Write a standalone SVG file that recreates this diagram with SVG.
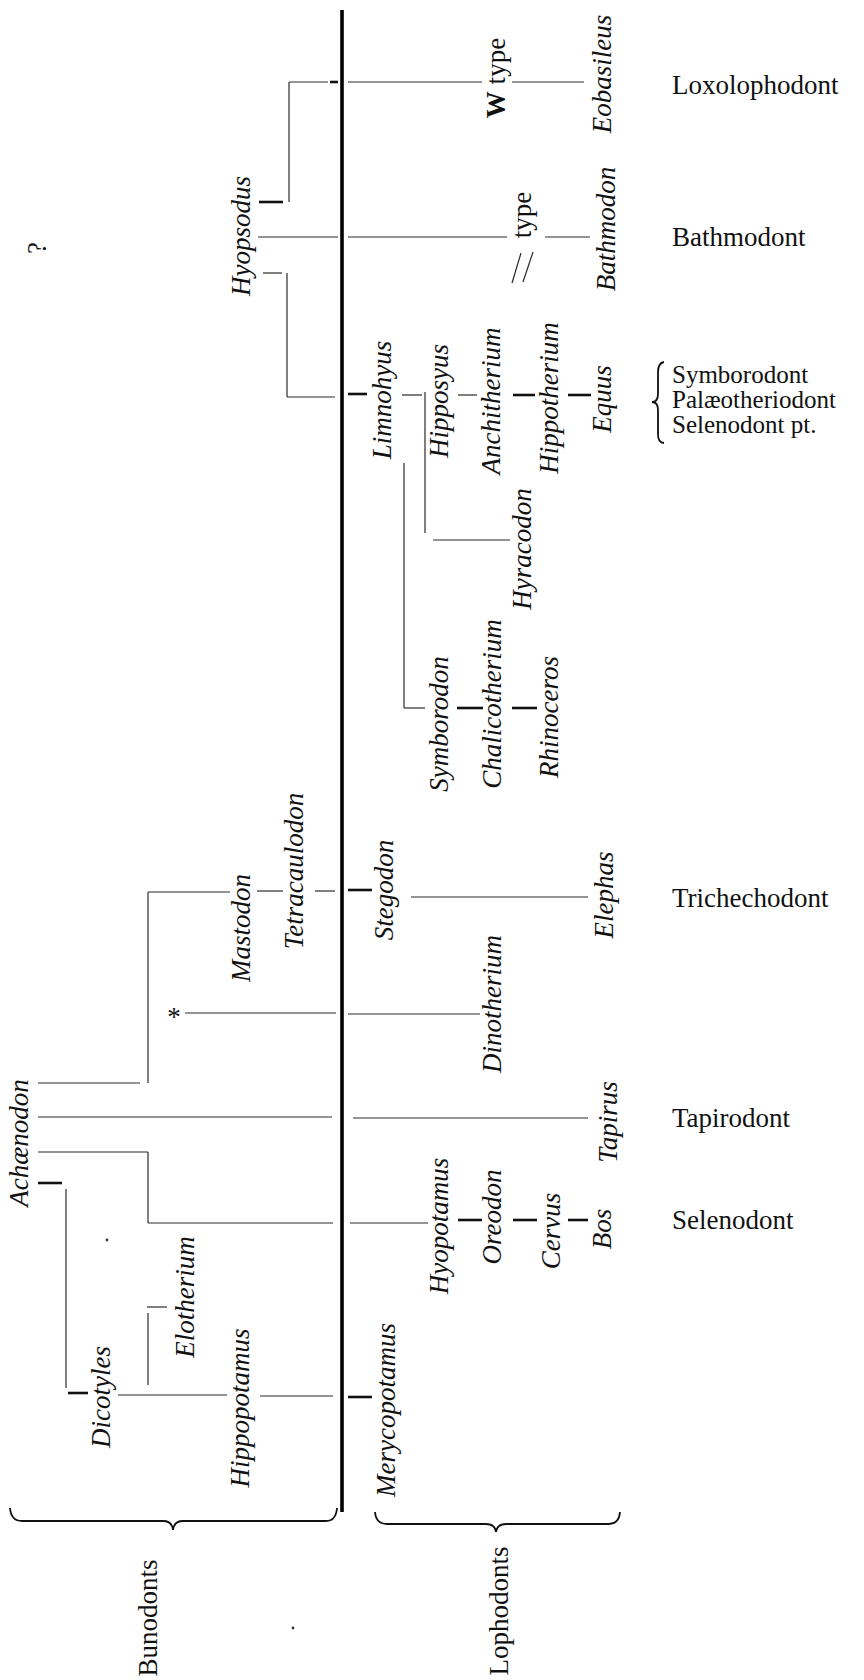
<svg xmlns="http://www.w3.org/2000/svg" width="864" height="1680" viewBox="0 0 864 1680">
<style>
text{font-family:'Liberation Serif','DejaVu Serif','Noto Serif',serif;font-size:27px;fill:#111}
.i{font-style:italic}
.m{text-anchor:middle}
.sm{font-size:25px}
.ln{stroke:#2a2a2a;stroke-width:1.2;fill:none}
.tk{stroke:#111;stroke-width:2.6;fill:none}
.main{stroke:#000;stroke-width:3.6}
.br{stroke:#111;stroke-width:1.8;fill:none}
</style>
<rect width="864" height="1680" fill="#fff"/>
<g id="connectors">
<line class="main" x1="342" y1="10" x2="342" y2="1512"/>
<line class="ln" x1="289" y1="82" x2="328" y2="82"/>
<line class="tk" x1="330" y1="82" x2="338" y2="82"/>
<line class="ln" x1="289" y1="82" x2="289" y2="202"/>
<line class="tk" x1="259" y1="202" x2="283" y2="202"/>
<line class="ln" x1="348" y1="82" x2="482" y2="82"/>
<line class="ln" x1="512" y1="82" x2="584" y2="82"/>
<line class="ln" x1="258" y1="237" x2="338" y2="237"/>
<line class="ln" x1="348" y1="237" x2="507" y2="237"/>
<line class="ln" x1="545" y1="237" x2="590" y2="237"/>
<line class="ln" x1="512" y1="283" x2="521" y2="253"/>
<line class="ln" x1="523" y1="282" x2="533" y2="252"/>
<line class="ln" x1="263" y1="273" x2="282" y2="273"/>
<line class="ln" x1="287" y1="273" x2="287" y2="397"/>
<line class="ln" x1="287" y1="397" x2="335" y2="397"/>
<line class="tk" x1="348" y1="394" x2="367" y2="394"/>
<line class="ln" x1="402" y1="395" x2="422" y2="395"/>
<line class="ln" x1="425" y1="392" x2="425" y2="533"/>
<line class="ln" x1="433" y1="540" x2="510" y2="540"/>
<line class="ln" x1="458" y1="395" x2="477" y2="395"/>
<line class="tk" x1="513" y1="395" x2="535" y2="395"/>
<line class="tk" x1="568" y1="395" x2="591" y2="395"/>
<line class="ln" x1="404" y1="463" x2="404" y2="708"/>
<line class="ln" x1="404" y1="708" x2="425" y2="708"/>
<line class="tk" x1="457" y1="708" x2="483" y2="708"/>
<line class="tk" x1="512" y1="708" x2="537" y2="708"/>
<line class="ln" x1="148" y1="892" x2="230" y2="892"/>
<line class="ln" x1="257" y1="891" x2="283" y2="891"/>
<line class="ln" x1="315" y1="891" x2="335" y2="891"/>
<line class="ln" x1="148" y1="892" x2="148" y2="1083"/>
<line class="ln" x1="38" y1="1083" x2="140" y2="1083"/>
<line class="tk" x1="348" y1="890" x2="372" y2="890"/>
<line class="ln" x1="411" y1="897" x2="588" y2="897"/>
<line class="ln" x1="185" y1="1013" x2="336" y2="1013"/>
<line class="ln" x1="348" y1="1014" x2="480" y2="1014"/>
<line class="ln" x1="38" y1="1117" x2="332" y2="1117"/>
<line class="ln" x1="353" y1="1118" x2="588" y2="1118"/>
<line class="ln" x1="38" y1="1152" x2="148" y2="1152"/>
<line class="ln" x1="148" y1="1152" x2="148" y2="1223"/>
<line class="ln" x1="148" y1="1223" x2="333" y2="1223"/>
<line class="ln" x1="350" y1="1223" x2="428" y2="1223"/>
<line class="tk" x1="458" y1="1220" x2="482" y2="1220"/>
<line class="tk" x1="513" y1="1220" x2="537" y2="1220"/>
<line class="tk" x1="568" y1="1220" x2="588" y2="1220"/>
<line class="tk" x1="38" y1="1183" x2="62" y2="1183"/>
<line class="ln" x1="66" y1="1189" x2="66" y2="1388"/>
<line class="tk" x1="68" y1="1393" x2="88" y2="1393"/>
<line class="ln" x1="118" y1="1395" x2="227" y2="1395"/>
<line class="ln" x1="260" y1="1396" x2="333" y2="1396"/>
<line class="ln" x1="147" y1="1307" x2="167" y2="1307"/>
<line class="ln" x1="148" y1="1313" x2="148" y2="1385"/>
<line class="tk" x1="348" y1="1397" x2="372" y2="1397"/>
<path class="br" d="M10,1508 Q11,1521 22,1521 L163,1521 Q172,1521 173,1530 Q174,1521 183,1521 L326,1521 Q336,1521 337,1508"/>
<path class="br" d="M375,1512 Q376,1524 387,1524 L486,1524 Q495,1524 496,1532 Q497,1524 506,1524 L609,1524 Q619,1524 620,1512"/>
<path class="br" d="M664,362 Q658,363 658,372 L658,394 Q658,402 652,402 Q658,402 658,410 L658,434 Q658,443 664,443"/>
</g>
<g font-family="Liberation Serif, DejaVu Serif, serif">
<g id="q"><text class="m" transform="translate(46,248) rotate(-90)">?</text></g>
<g id="hyopsodus"><text class="i m" transform="translate(250,236) rotate(-90)">Hyopsodus</text></g>
<g id="wtype"><text class="m" transform="translate(505,78) rotate(-90)"><tspan font-weight="bold">W</tspan> type</text></g>
<g id="eobasileus"><text class="i m" transform="translate(611,74) rotate(-90)">Eobasileus</text></g>
<g id="type"><text class="m" transform="translate(531,215) rotate(-90)">type</text></g>
<g id="bathmodon"><text class="i m" transform="translate(615,229) rotate(-90)">Bathmodon</text></g>
<g id="limnohyus"><text class="i m" transform="translate(391,400) rotate(-90)">Limnohyus</text></g>
<g id="hipposyus"><text class="i m" transform="translate(448,401) rotate(-90)">Hipposyus</text></g>
<g id="anchitherium"><text class="i m" transform="translate(500,401) rotate(-90)">Anchitherium</text></g>
<g id="hippotherium"><text class="i m" transform="translate(558,398) rotate(-90)">Hippotherium</text></g>
<g id="equus"><text class="i m" transform="translate(611,399) rotate(-90)">Equus</text></g>
<g id="hyracodon"><text class="i m" transform="translate(531,549) rotate(-90)">Hyracodon</text></g>
<g id="symborodon"><text class="i m" transform="translate(448,724) rotate(-90)">Symborodon</text></g>
<g id="chalicotherium"><text class="i m" transform="translate(501,704) rotate(-90)">Chalicotherium</text></g>
<g id="rhinoceros"><text class="i m" transform="translate(558,717) rotate(-90)">Rhinoceros</text></g>
<g id="mastodon"><text class="i m" transform="translate(250,928) rotate(-90)">Mastodon</text></g>
<g id="tetracaulodon"><text class="i m" transform="translate(303,871) rotate(-90)">Tetracaulodon</text></g>
<g id="stegodon"><text class="i m" transform="translate(393,890) rotate(-90)">Stegodon</text></g>
<g id="elephas"><text class="i m" transform="translate(613,895) rotate(-90)">Elephas</text></g>
<g id="asterisk"><text class="m" x="174" y="1026">*</text></g>
<g id="dinotherium"><text class="i m" transform="translate(501,1004) rotate(-90)">Dinotherium</text></g>
<g id="tapirus"><text class="i m" transform="translate(617,1122) rotate(-90)">Tapirus</text></g>
<g id="hyopotamus"><text class="i m" transform="translate(448,1226) rotate(-90)">Hyopotamus</text></g>
<g id="oreodon"><text class="i m" transform="translate(501,1217) rotate(-90)">Oreodon</text></g>
<g id="cervus"><text class="i m" transform="translate(560,1231) rotate(-90)">Cervus</text></g>
<g id="bos"><text class="i m" transform="translate(611,1229) rotate(-90)">Bos</text></g>
<g id="achaenodon"><text class="i m" transform="translate(28,1143) rotate(-90)">Achænodon</text></g>
<g id="elotherium"><text class="i m" transform="translate(194,1297) rotate(-90)">Elotherium</text></g>
<g id="dicotyles"><text class="i m" transform="translate(110,1397) rotate(-90)">Dicotyles</text></g>
<g id="hippopotamus"><text class="i m" transform="translate(249,1408) rotate(-90)">Hippopotamus</text></g>
<g id="merycopotamus"><text class="i m" transform="translate(395,1410) rotate(-90)">Merycopotamus</text></g>
<g id="bunodonts"><text class="m" transform="translate(157,1618) rotate(-90)">Bunodonts</text></g>
<g id="lophodonts"><text class="m" transform="translate(508,1611) rotate(-90)">Lophodonts</text></g>
<g id="loxolophodont"><text x="672" y="94">Loxolophodont</text></g>
<g id="bathmodont"><text x="672" y="246">Bathmodont</text></g>
<g id="symborodont"><text class="sm" x="672" y="383">Symborodont</text><text class="sm" x="672" y="408">Palæotheriodont</text><text class="sm" x="672" y="433">Selenodont pt.</text></g>
<g id="trichechodont"><text x="672" y="907">Trichechodont</text></g>
<g id="tapirodont"><text x="672" y="1127">Tapirodont</text></g>
<g id="selenodont"><text x="672" y="1229">Selenodont</text></g>
</g>
<g id="specks"><circle cx="107" cy="1240" r="1.4" fill="#333"/><circle cx="293" cy="1628" r="1.4" fill="#333"/></g>
</svg>
